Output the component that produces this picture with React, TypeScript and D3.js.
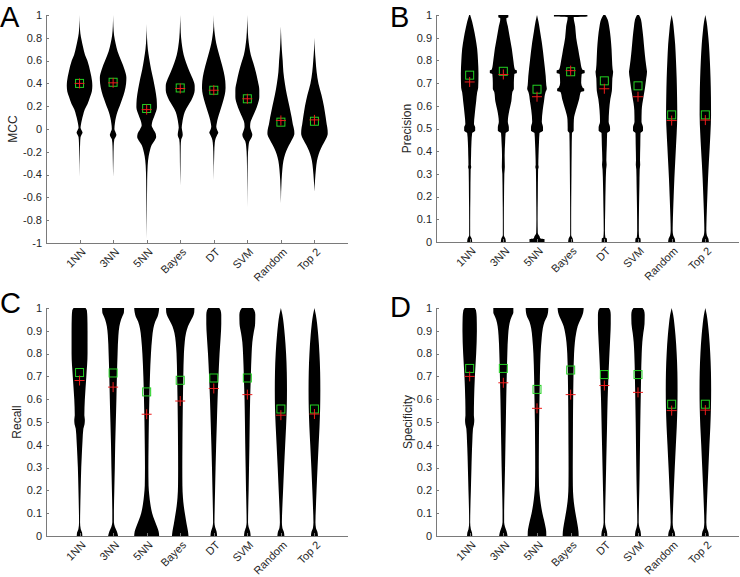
import React from 'react';
import * as d3 from 'd3';

type P = [number, number];

const categories = ['1NN', '3NN', '5NN', 'Bayes', 'DT', 'SVM', 'Random', 'Top 2'];

const mccTicks = [-1, -0.8, -0.6, -0.4, -0.2, 0, 0.2, 0.4, 0.6, 0.8, 1];
const unitTicks = [0, 0.1, 0.2, 0.3, 0.4, 0.5, 0.6, 0.7, 0.8, 0.9, 1];

// Violin outlines: [value, density]
const mccViolins: P[][] = [
  [[1.0,0],[0.9,0.3],[0.84,0.8],[0.78,2],[0.72,3.5],[0.65,5.5],[0.6,7.8],[0.5,10.8],[0.42,12.5],[0.38,12.8],[0.33,12.3],[0.28,10.5],[0.22,8],[0.17,5.2],[0.12,3.5],[0.08,2.3],[0.04,1.4],[0.01,1],[-0.01,2],[-0.03,3],[-0.05,2],[-0.07,1],[-0.12,0.6],[-0.2,0.35],[-0.42,0]],
  [[1.0,0],[0.9,0.3],[0.82,1],[0.75,2.5],[0.68,4.5],[0.6,8],[0.52,11.5],[0.45,13.3],[0.4,13],[0.33,11.5],[0.26,9],[0.2,6.5],[0.15,4.3],[0.1,2.8],[0.05,1.8],[0.0,1.3],[-0.03,2.5],[-0.05,3.3],[-0.07,2.5],[-0.09,1.2],[-0.15,0.6],[-0.25,0.35],[-0.42,0]],
  [[0.92,0],[0.8,0.35],[0.7,1.2],[0.62,2.5],[0.52,4.5],[0.44,6.5],[0.35,8.5],[0.26,10],[0.19,10.3],[0.12,8],[0.06,5.5],[0.03,5],[0.0,6.5],[-0.04,9],[-0.07,9.5],[-0.1,8],[-0.14,5],[-0.18,3.5],[-0.24,2],[-0.32,1],[-0.45,0.5],[-0.7,0.25],[-0.97,0]],
  [[1.0,0],[0.9,0.3],[0.8,0.9],[0.72,2],[0.65,3.5],[0.58,6],[0.5,9.5],[0.44,12.5],[0.38,14.5],[0.34,14.5],[0.3,13.5],[0.25,11],[0.2,7.5],[0.15,4.5],[0.1,3],[0.05,2],[0.01,1.5],[-0.03,2.3],[-0.05,2.5],[-0.07,2],[-0.09,1],[-0.15,0.5],[-0.3,0.3],[-0.5,0]],
  [[1.0,0],[0.9,0.3],[0.82,1.2],[0.75,2.5],[0.68,4.5],[0.6,7],[0.5,10],[0.42,11.5],[0.36,11.8],[0.3,11],[0.22,8.5],[0.15,6],[0.1,4.3],[0.05,3],[0.02,2.5],[-0.01,3.5],[-0.03,4.5],[-0.05,3.5],[-0.08,2],[-0.12,1],[-0.2,0.5],[-0.45,0]],
  [[1.0,0],[0.9,0.3],[0.8,0.9],[0.72,2],[0.65,3.5],[0.58,6],[0.5,8.5],[0.42,10.5],[0.34,12],[0.28,12],[0.22,10.5],[0.16,8],[0.1,5],[0.05,3],[0.02,2.8],[-0.02,4],[-0.05,5],[-0.08,4],[-0.11,2],[-0.15,1.2],[-0.25,0.5],[-0.4,0.25],[-0.7,0]],
  [[0.9,0],[0.8,0.35],[0.7,0.9],[0.6,1.8],[0.5,2.5],[0.4,4],[0.3,6],[0.2,8.5],[0.1,10.8],[0.04,12],[-0.01,13.3],[-0.04,13.5],[-0.08,12],[-0.12,9.5],[-0.17,6.5],[-0.22,4.3],[-0.28,2.5],[-0.35,1.5],[-0.45,0.7],[-0.65,0]],
  [[0.8,0],[0.7,0.4],[0.6,1.2],[0.5,2.2],[0.4,4],[0.3,7],[0.2,9.5],[0.1,11.3],[0.04,12.3],[-0.01,13.2],[-0.04,13.3],[-0.08,12],[-0.12,9.5],[-0.17,6.5],[-0.22,4.3],[-0.28,2.5],[-0.35,1.5],[-0.45,0.6],[-0.55,0]],
];
const mccMeans = [0.40, 0.41, 0.18, 0.36, 0.34, 0.265, 0.06, 0.068];
const mccMedians = [0.40, 0.405, 0.17, 0.355, 0.34, 0.265, 0.075, 0.08];

const precisionViolins: P[][] = [
  [[1.0,0.5],[0.97,2.5],[0.94,4],[0.9,5.8],[0.85,7.5],[0.8,8.3],[0.74,8.8],[0.68,8.5],[0.66,7.5],[0.62,6.5],[0.56,5],[0.52,4.3],[0.505,5.5],[0.49,5.5],[0.48,2.5],[0.44,1.8],[0.38,1.4],[0.34,1.2],[0.33,1.6],[0.32,1],[0.2,0.7],[0.1,0.5],[0.03,0.5],[0.015,2],[0,2.5]],
  [[1.0,5],[0.99,5],[0.985,3],[0.95,4.5],[0.9,6.5],[0.85,8.5],[0.8,10],[0.76,11.5],[0.755,13.5],[0.745,13.5],[0.74,11],[0.7,10.5],[0.675,10.5],[0.66,9],[0.62,8],[0.58,6],[0.53,4.5],[0.505,5.5],[0.49,5.5],[0.48,2.3],[0.44,1.8],[0.38,1.3],[0.33,1.5],[0.3,1],[0.2,0.7],[0.1,0.5],[0.03,0.5],[0.015,2],[0,2.5]],
  [[1.0,0],[0.97,1.5],[0.93,3],[0.88,4.8],[0.8,7],[0.73,8.7],[0.69,9.3],[0.675,9.8],[0.66,8.5],[0.62,7],[0.58,5.7],[0.53,4.8],[0.505,6],[0.49,6],[0.48,2.5],[0.44,2],[0.38,1.5],[0.34,1.3],[0.33,1.7],[0.32,1.1],[0.2,0.8],[0.1,0.6],[0.04,0.8],[0.025,2.5],[0.015,3.5],[0.012,7.5],[0,7.5]],
  [[1.0,16.7],[0.993,16.7],[0.99,3],[0.95,4.5],[0.9,5.5],[0.85,7.5],[0.8,9.5],[0.76,11.5],[0.755,14],[0.745,14],[0.74,11],[0.7,10.5],[0.68,12],[0.675,13.5],[0.665,13.5],[0.66,10],[0.63,8.5],[0.58,5.2],[0.54,3.2],[0.505,3],[0.49,3],[0.48,1.3],[0.4,1],[0.3,0.8],[0.2,0.6],[0.1,0.5],[0.03,0.5],[0.015,2],[0,2.5]],
  [[1.0,1],[0.98,3.3],[0.95,4.8],[0.9,6.3],[0.85,7.2],[0.8,7.7],[0.76,8.3],[0.75,8.8],[0.72,8],[0.68,7.7],[0.665,7.5],[0.63,6],[0.58,4.8],[0.53,4.3],[0.505,5.7],[0.49,5.7],[0.48,2.8],[0.43,2.5],[0.36,2],[0.34,2.3],[0.32,1.8],[0.25,1.3],[0.15,0.9],[0.05,0.6],[0.02,1],[0.015,2.5],[0,2.7]],
  [[1.0,1],[0.98,3],[0.95,4],[0.9,5.3],[0.85,6.3],[0.8,7.5],[0.76,8.7],[0.75,9],[0.72,8.2],[0.68,7],[0.64,5.5],[0.58,3.7],[0.53,3.5],[0.505,5],[0.49,5],[0.48,2.5],[0.43,2.3],[0.36,2],[0.34,2.2],[0.32,1.7],[0.25,1.4],[0.15,1],[0.05,0.8],[0.02,1.2],[0.015,2.5],[0,2.7]],
  [[1.0,0],[0.97,1.3],[0.93,2.3],[0.87,3.5],[0.8,4.3],[0.72,5],[0.64,5.4],[0.56,5.6],[0.48,5],[0.42,4.3],[0.35,3.5],[0.28,2.7],[0.2,2],[0.14,1.5],[0.08,1.1],[0.05,1],[0.03,1.5],[0.015,3],[0,3.5]],
  [[1.0,0],[0.97,1.3],[0.93,2.4],[0.87,3.6],[0.8,4.5],[0.72,5.2],[0.64,5.6],[0.56,5.7],[0.48,5.1],[0.42,4.4],[0.35,3.5],[0.28,2.7],[0.2,2],[0.14,1.5],[0.08,1.1],[0.05,1],[0.03,1.5],[0.015,3],[0,3.5]],
];
const precisionMeans = [0.735, 0.752, 0.673, 0.75, 0.71, 0.688, 0.56, 0.56];
const precisionMedians = [0.705, 0.738, 0.64, 0.755, 0.675, 0.64, 0.535, 0.537];

const recallViolins: P[][] = [
  [[1.0,6],[0.99,7.3],[0.96,7.8],[0.9,8],[0.8,8],[0.7,6.8],[0.6,5.3],[0.53,4.8],[0.51,5.3],[0.49,5],[0.47,3.8],[0.42,3],[0.35,2.2],[0.3,1.7],[0.2,1.1],[0.12,0.7],[0.06,0.5],[0.03,1.2],[0.015,2.5],[0,2.8]],
  [[1.0,11],[0.98,10.8],[0.97,10],[0.95,8],[0.92,6.3],[0.88,5.3],[0.8,4.5],[0.7,3.8],[0.6,3.3],[0.5,2.7],[0.4,2.1],[0.3,1.7],[0.2,1.2],[0.1,0.8],[0.06,0.8],[0.04,1.8],[0.02,3.8],[0,5]],
  [[1.0,12.5],[0.98,12],[0.96,10.8],[0.94,8.5],[0.91,6.7],[0.87,5.5],[0.8,4.3],[0.7,3.3],[0.6,2.7],[0.5,2.2],[0.4,1.9],[0.3,1.7],[0.22,1.9],[0.18,2.6],[0.14,3.7],[0.1,5.5],[0.07,7.8],[0.04,10.5],[0.02,12],[0,12.5]],
  [[1.0,14.2],[0.98,14],[0.96,12.5],[0.94,10],[0.92,7.8],[0.89,5.8],[0.85,4.5],[0.8,3.7],[0.7,3.1],[0.6,2.7],[0.5,2.4],[0.4,2.2],[0.3,2.1],[0.22,2.2],[0.17,2.7],[0.13,3.6],[0.09,5],[0.05,6.5],[0.02,7.8],[0,8.3]],
  [[1.0,5.5],[0.99,6.8],[0.97,7.5],[0.93,7.5],[0.88,7],[0.8,5.8],[0.7,4.7],[0.6,3.8],[0.5,3.1],[0.4,2.4],[0.3,1.8],[0.2,1.3],[0.12,0.9],[0.06,0.7],[0.04,1.3],[0.02,2.8],[0,3.3]],
  [[1.0,5.5],[0.99,7],[0.97,8],[0.93,7.8],[0.89,6.3],[0.85,5],[0.8,4.3],[0.7,3.5],[0.6,2.8],[0.5,2.4],[0.4,2.1],[0.3,1.7],[0.2,1.3],[0.12,0.9],[0.06,0.7],[0.04,1.3],[0.02,2.8],[0,3.3]],
  [[1.0,0],[0.97,1.5],[0.93,2.8],[0.88,3.9],[0.8,5.2],[0.72,5.9],[0.64,6.1],[0.56,5.9],[0.48,5.2],[0.4,4.3],[0.3,3.2],[0.2,2.2],[0.12,1.4],[0.06,1],[0.035,1.5],[0.018,3],[0,3.5]],
  [[1.0,0],[0.97,1.4],[0.93,2.7],[0.88,3.8],[0.8,5],[0.72,5.7],[0.64,5.9],[0.56,5.7],[0.48,5.1],[0.4,4.2],[0.3,3.1],[0.2,2.1],[0.12,1.4],[0.06,1],[0.035,1.5],[0.018,3],[0,3.5]],
];
const recallMeans = [0.717, 0.715, 0.632, 0.683, 0.693, 0.693, 0.557, 0.557];
const recallMedians = [0.682, 0.653, 0.534, 0.592, 0.647, 0.62, 0.53, 0.535];

const specificityViolins: P[][] = [
  [[1.0,5],[0.99,6.3],[0.96,7],[0.9,7.2],[0.8,6.5],[0.7,5.2],[0.6,4.4],[0.53,4.2],[0.51,4.6],[0.49,4.3],[0.47,3.3],[0.42,2.7],[0.35,2.1],[0.3,1.8],[0.2,1.2],[0.12,0.7],[0.06,0.5],[0.03,1.2],[0.015,2.3],[0,2.6]],
  [[1.0,10],[0.98,10],[0.97,9.2],[0.95,7.2],[0.92,5.7],[0.88,4.8],[0.8,4],[0.7,3.4],[0.6,2.9],[0.5,2.5],[0.4,2.1],[0.3,1.7],[0.2,1.2],[0.1,0.8],[0.06,0.8],[0.04,1.7],[0.02,3.3],[0,4.2]],
  [[1.0,11.3],[0.98,11],[0.96,9.8],[0.94,7.5],[0.91,5.8],[0.87,4.7],[0.8,3.6],[0.7,2.9],[0.6,2.5],[0.5,2.1],[0.4,1.9],[0.3,1.8],[0.22,2],[0.18,2.7],[0.14,3.8],[0.1,5.4],[0.07,7],[0.04,8.5],[0.02,9.2],[0,9.3]],
  [[1.0,13],[0.98,12.5],[0.96,11],[0.94,8.8],[0.92,7],[0.89,5.5],[0.85,4.2],[0.8,3.4],[0.7,2.8],[0.6,2.5],[0.5,2.3],[0.4,2.2],[0.3,2.1],[0.22,2.2],[0.17,2.7],[0.13,3.7],[0.09,5.2],[0.05,6.8],[0.02,7.8],[0,8]],
  [[1.0,4.5],[0.99,5.8],[0.97,6.4],[0.93,6.4],[0.88,6],[0.8,5.1],[0.7,4.1],[0.6,3.3],[0.5,2.8],[0.4,2.3],[0.3,1.8],[0.2,1.3],[0.12,0.9],[0.06,0.7],[0.04,1.3],[0.02,2.6],[0,3]],
  [[1.0,4.5],[0.99,6],[0.97,6.7],[0.93,6.5],[0.89,5.3],[0.85,4.3],[0.8,3.7],[0.7,3.1],[0.6,2.7],[0.5,2.3],[0.4,2],[0.3,1.7],[0.2,1.3],[0.12,0.9],[0.06,0.7],[0.04,1.3],[0.02,2.6],[0,3]],
  [[1.0,0],[0.97,1.5],[0.93,2.7],[0.88,3.8],[0.8,5],[0.72,5.7],[0.64,5.9],[0.56,5.7],[0.48,5.1],[0.4,4.2],[0.3,3.1],[0.2,2.1],[0.12,1.4],[0.06,1],[0.035,1.5],[0.018,3],[0,3.5]],
  [[1.0,0],[0.97,1.4],[0.93,2.6],[0.88,3.7],[0.8,4.9],[0.72,5.6],[0.64,5.8],[0.56,5.6],[0.48,5],[0.4,4.1],[0.3,3.1],[0.2,2.1],[0.12,1.4],[0.06,1],[0.035,1.5],[0.018,3],[0,3.5]],
];
const specificityMeans = [0.735, 0.735, 0.643, 0.728, 0.708, 0.708, 0.578, 0.578];
const specificityMedians = [0.70, 0.672, 0.56, 0.62, 0.66, 0.63, 0.55, 0.552];

const FONT = '"Liberation Sans", Arial, Helvetica, sans-serif';
const AXIS = '#7a7a7a';
const TEXT = '#262626';

interface PanelSpec {
  letter: string;
  label: string;
  violins: P[][];
  means: number[];
  medians: number[];
  ticks: number[];
  left: number; right: number; top: number; bottom: number;
  labelX: number; letterX: number; letterY: number;
}

const panels: PanelSpec[] = [
  { letter: 'A', label: 'MCC', violins: mccViolins, means: mccMeans, medians: mccMedians, ticks: mccTicks,
    left: 46, right: 348, top: 15, bottom: 243, labelX: 13, letterX: 0, letterY: 27 },
  { letter: 'B', label: 'Precision', violins: precisionViolins, means: precisionMeans, medians: precisionMedians, ticks: unitTicks,
    left: 436, right: 739, top: 15, bottom: 242, labelX: 407, letterX: 390, letterY: 27 },
  { letter: 'C', label: 'Recall', violins: recallViolins, means: recallMeans, medians: recallMedians, ticks: unitTicks,
    left: 46, right: 348, top: 308, bottom: 536, labelX: 17, letterX: 0, letterY: 313 },
  { letter: 'D', label: 'Specificity', violins: specificityViolins, means: specificityMeans, medians: specificityMedians, ticks: unitTicks,
    left: 436, right: 739, top: 308, bottom: 536, labelX: 408, letterX: 390, letterY: 317 },
];

const fmt = (v: number) => String(Math.round(v * 10) / 10);

function Panel({ p }: { p: PanelSpec }) {
  const x = d3.scaleLinear().domain([0, categories.length + 1]).range([p.left, p.right]);
  const y = d3.scaleLinear().domain([p.ticks[0], p.ticks[p.ticks.length - 1]]).range([p.bottom, p.top]);
  const step = x(1) - x(0);
  const w = d3.scaleLinear().domain([0, 16.8]).range([0, step / 2]);
  const sq = 8;
  const pl = 5;
  return (
    <g>
      <text x={p.letterX} y={p.letterY} fontFamily={FONT} fontSize={29} fill="#000">{p.letter}</text>
      {p.violins.map((prof, i) => {
        const cx = x(i + 1);
        const area = d3.area<P>()
          .y(d => y(d[0]))
          .x0(d => cx - w(d[1]))
          .x1(d => cx + w(d[1]))
          .curve(d3.curveMonotoneY);
        return <path key={'v' + i} d={area(prof) || ''} fill="#000" />;
      })}
      {p.means.map((m, i) => (
        <rect key={'m' + i} x={x(i + 1) - sq / 2} y={y(m) - sq / 2} width={sq} height={sq}
          fill="none" stroke="#22d022" strokeWidth={1} />
      ))}
      {p.medians.map((m, i) => (
        <g key={'d' + i} stroke="#ee1c1c" strokeWidth={1}>
          <line x1={x(i + 1) - pl} x2={x(i + 1) + pl} y1={y(m)} y2={y(m)} />
          <line x1={x(i + 1)} x2={x(i + 1)} y1={y(m) - pl} y2={y(m) + pl} />
        </g>
      ))}
      <line x1={p.left + 0.5} x2={p.left + 0.5} y1={p.top} y2={p.bottom + 0.5} stroke={AXIS} strokeWidth={1} />
      <line x1={p.left} x2={p.right} y1={p.bottom + 0.5} y2={p.bottom + 0.5} stroke={AXIS} strokeWidth={1} />
      {p.ticks.map(t => (
        <g key={'t' + t}>
          <line x1={p.left} x2={p.left + 3} y1={Math.round(y(t)) + 0.5} y2={Math.round(y(t)) + 0.5} stroke={AXIS} />
          <text x={p.left - 4} y={y(t)} dy="0.35em" textAnchor="end" fontFamily={FONT} fontSize={11} fill={TEXT}>{fmt(t)}</text>
        </g>
      ))}
      {categories.map((c, i) => (
        <g key={'c' + i}>
          <line x1={Math.round(x(i + 1)) + 0.5} x2={Math.round(x(i + 1)) + 0.5} y1={p.bottom} y2={p.bottom - 3} stroke={AXIS} />
          <text transform={`translate(${x(i + 1) + 4},${p.bottom + 7}) rotate(-45)`} textAnchor="end" dy="0.35em"
            fontFamily={FONT} fontSize={11} fill={TEXT}>{c}</text>
        </g>
      ))}
      <text transform={`translate(${p.labelX},${(p.top + p.bottom) / 2}) rotate(-90)`} textAnchor="middle" dy="0.35em"
        fontFamily={FONT} fontSize={12} fill={TEXT}>{p.label}</text>
    </g>
  );
}

export default function App() {
  return (
    <svg width={740} height={577} style={{ position: 'absolute', left: 0, top: 0, background: '#fff' }}>
      <rect width={740} height={577} fill="#fff" />
      {panels.map(p => <Panel key={p.letter} p={p} />)}
    </svg>
  );
}
